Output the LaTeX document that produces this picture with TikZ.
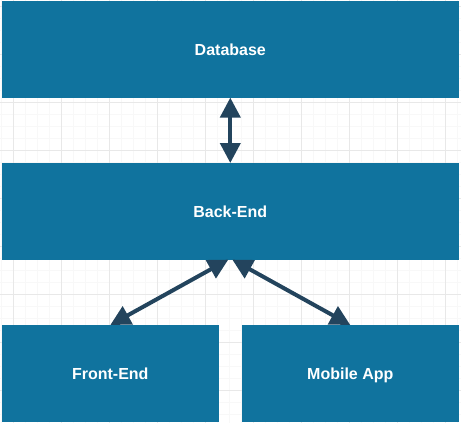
\documentclass[tikz,border=0pt]{standalone}
\usepackage{fontspec}
\setmainfont{Liberation Sans}
\usepackage{xcolor}
\usepackage{tikz}
\usetikzlibrary{arrows.meta}
\definecolor{boxblue}{HTML}{10739E}
\definecolor{arrowblue}{HTML}{23445D}
\definecolor{gridmajor}{HTML}{E8E8E8}
\definecolor{gridminor}{HTML}{F8F8F8}
\tikzstyle{block} = [rectangle, anchor=north west, minimum height=96pt, inner sep=0pt,
                     text height=11.5pt, text depth=0pt,
                     draw=boxblue, fill=boxblue, text=white, font=\fontsize{16pt}{19pt}\selectfont\bfseries, line width=0.6pt]
\tikzstyle{arrow} = [draw=arrowblue, line width=4pt, {Triangle[length=20pt,width=20pt]}-{Triangle[length=20pt,width=20pt]}]
\tikzstyle{minorline} = [draw=gridminor, line width=0.7pt]
\tikzstyle{majorline} = [draw=gridmajor, line width=1pt]

\begin{document}
\begin{tikzpicture}[x=1pt, y=-1pt]
\useasboundingbox (0,0) rectangle (461,423);

% background grid
\foreach \x in {1.3,13.3,...,461} \draw[minorline] (\x,0) -- (\x,423);
\foreach \y in {6,18,...,423} \draw[minorline] (0,\y) -- (461,\y);
\foreach \x in {13.3,61.3,...,461} \draw[majorline] (\x,0) -- (\x,423);
\foreach \y in {6,54,...,423} \draw[majorline] (0,\y) -- (461,\y);

\node (database) [block, minimum width=456pt] at (2,1) {Database};
\node (backend) [block, minimum width=456pt] at (2,163) {Back-End};
\node (frontend) [block, minimum width=216pt] at (2,325) {Front-End};
\node (mobileapp) [block, minimum width=216pt] at (242,325) {Mobile App};

\draw [arrow] (database) -- (backend);
\draw [arrow] ([xshift=-2pt]backend.south) -- (frontend.north);
\draw [arrow] ([xshift=2pt]backend.south) -- (mobileapp.north);

\end{tikzpicture}
\end{document}
